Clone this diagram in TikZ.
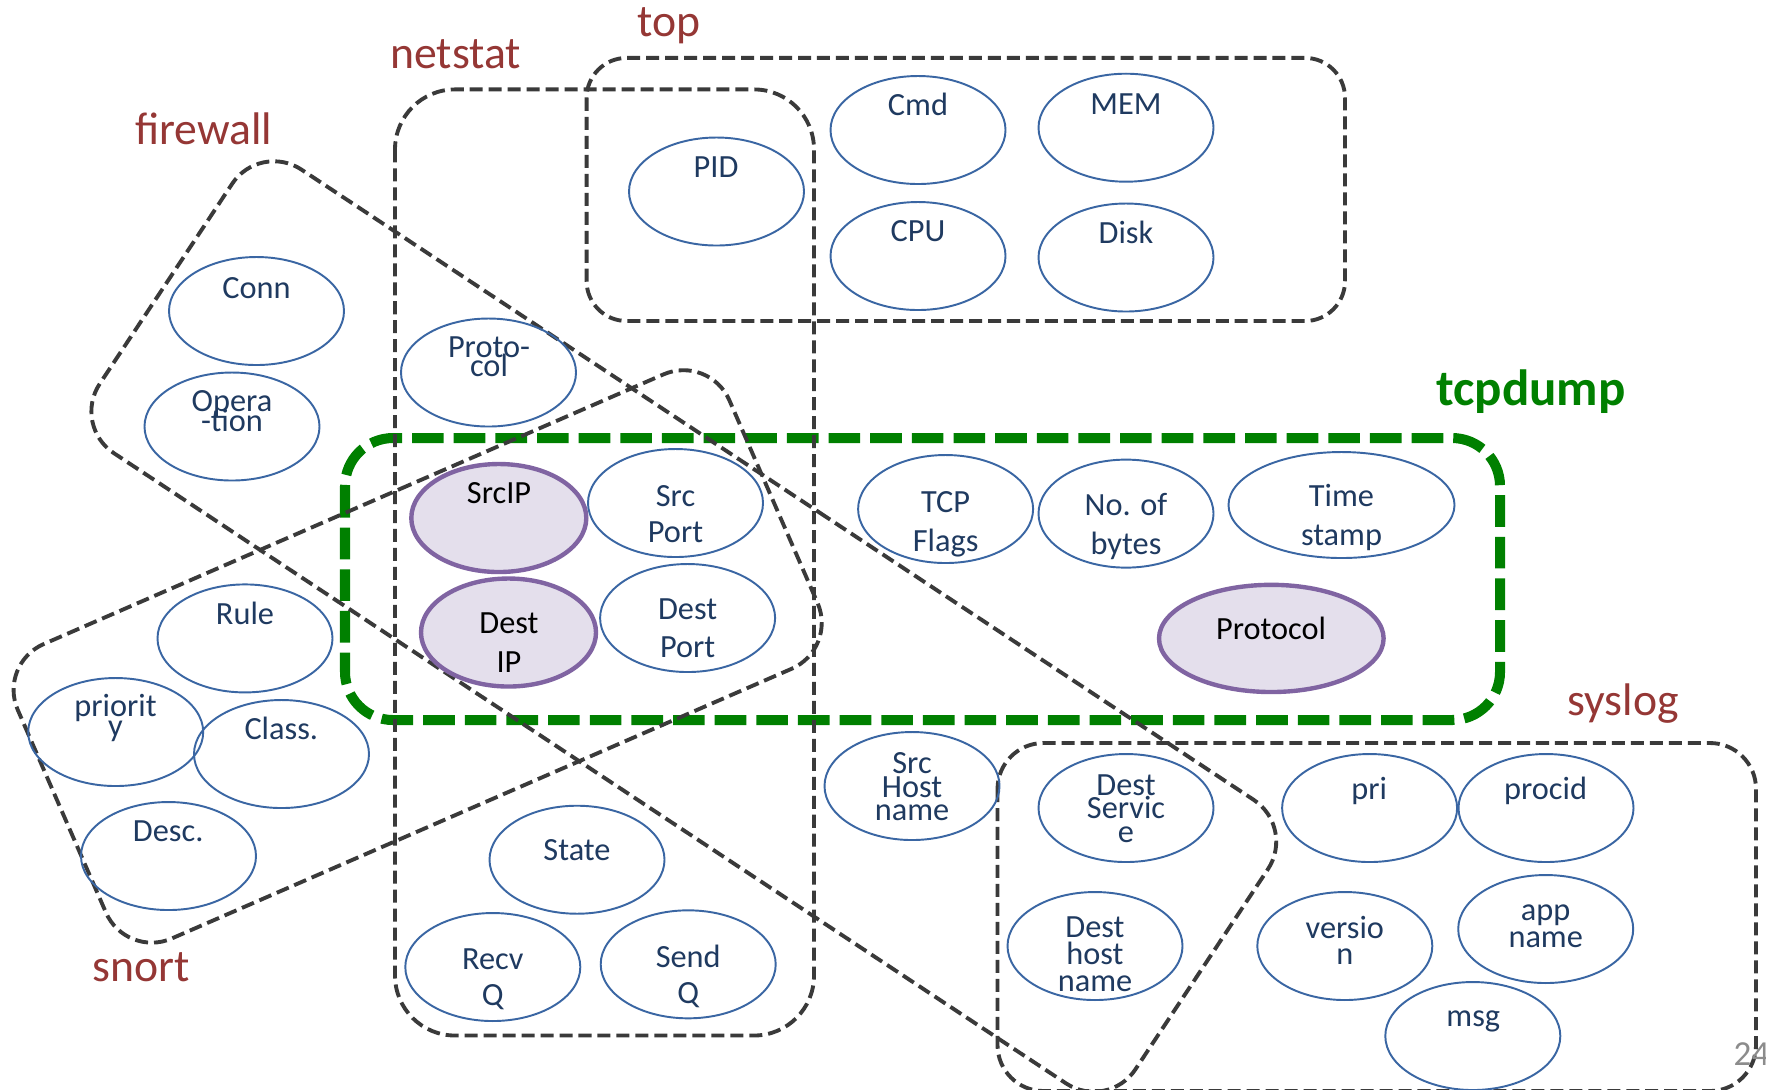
\documentclass[tikz,border=0pt]{standalone}
\usepackage{fontspec}
\setmainfont{Carlito}
\usetikzlibrary{shapes.geometric}

\definecolor{grpgray}{HTML}{3A3A3A}
\definecolor{dumpgreen}{HTML}{008000}
\definecolor{ttlred}{HTML}{953735}
\definecolor{fldblue}{HTML}{3A66A3}
\definecolor{fldtext}{HTML}{1F3A60}
\definecolor{hlpurple}{HTML}{8064A2}
\definecolor{hlfill}{HTML}{E4DFEC}
\definecolor{pagegray}{HTML}{8C8C8C}

% stacked lines with a fixed baseline distance; baseline of the box = first line
\newcommand{\stk}[2]{\vtop{\baselineskip=#1\lineskiplimit=-\maxdimen\lineskip=0pt\halign{\hfil##\hfil\cr#2\crcr}}}

\tikzset{
  grp/.style={draw=grpgray, line width=1.1pt, dash pattern=on 3.7pt off 1.7pt},
  dumpbox/.style={draw=dumpgreen, line width=2.85pt, dash pattern=on 9pt off 2.85pt},
  fld/.style={ellipse, draw=fldblue, line width=0.55pt, inner sep=0pt,
              minimum width=17.5mm, minimum height=10.8mm},
  hl/.style={fld, draw=hlpurple, fill=hlfill, line width=1.25pt},
  ftxt/.style={text=fldtext, font=\fontsize{9.2}{10}\selectfont, inner sep=0pt, anchor=base},
  htxt/.style={ftxt, text=black},
  ttl/.style={text=ttlred, font=\fontsize{13}{15}\selectfont, inner sep=0pt, anchor=base},
}

\begin{document}
\begin{tikzpicture}[x=0.1mm, y=-0.1mm]
\clip (0,0) rectangle (1766,1089);
\fill[white] (0,0) rectangle (1766,1089);

% ---- tool groups ----
\draw[dumpbox, rounded corners=4.8mm] (345,438) rectangle (1500,720);
\draw[grp, rounded corners=4mm] (586.6,57.9) rectangle (1345,321);
\draw[grp, rounded corners=6mm] (395,89.4) rectangle (814,1035.5);
\draw[grp, rounded corners=4.6mm] (997.5,743) rectangle (1756,1091);
% firewall: tilted band
\draw[grp, rounded corners=5mm] (777.6,484.8) -- (1295.5,827.5) -- (1107.8,1111)
      -- (72.1,425.5) -- (259.8,142) -- cycle;
% snort: tilted band
\draw[grp, rounded corners=5mm] (353.6,509.2) -- (709.4,354.4) -- (837.5,648.8)
      -- (125.9,958.4) -- (-2.2,664) -- cycle;

% ---- group titles ----
\node[ttl] (t-top) at (669,36.8) {top};
\node[ttl] (t-netstat) at (455.7,68.4) {netstat};
\node[ttl] (t-firewall) at (203.8,144.9) {firewall};
\node[ttl, text=dumpgreen, font=\fontsize{14.5}{16}\selectfont\bfseries] (t-tcpdump) at (1531,405) {tcpdump};
\node[ttl] (t-syslog) at (1623,715) {syslog};
\node[ttl] (t-snort) at (141,981) {snort};
\node[inner sep=0pt, anchor=base west, text=pagegray, font=\fontsize{10}{12}\selectfont] (pageno) at (1733,1065) {24};

% ---- fields ----
\node[fld] (pid) at (716.5,191.5) {};
\node[fld] (cmd) at (918,130) {};
\node[fld] (mem) at (1126,127.7) {};
\node[fld] (cpu) at (918,256) {};
\node[fld] (disk) at (1126,257.5) {};
\node[fld] (conn) at (256.5,311) {};
\node[fld] (oper) at (232,426.5) {};
\node[fld] (proto) at (488.5,372.5) {};
\node[hl] (srcip) at (498.8,518) {};
\node[fld] (srcport) at (675.5,503) {};
\node[hl] (destip) at (508.5,632.5) {};
\node[fld] (destport) at (687.6,618) {};
\node[fld] (tcpflags) at (945.6,509) {};
\node[fld] (nbytes) at (1126,513.6) {};
\node[fld, minimum width=22.6mm, minimum height=10.6mm] (tstamp) at (1341.5,505) {};
\node[hl, minimum width=22.46mm, minimum height=10.72mm] (protoh) at (1271.3,638.4) {};
\node[fld] (rule) at (245,638.4) {};
\node[fld] (prio) at (115.7,732) {};
\node[fld] (class) at (281.5,754) {};
\node[fld] (desc) at (168.5,856) {};
\node[fld] (state) at (577,859.7) {};
\node[fld] (recvq) at (492.8,967) {};
\node[fld] (sendq) at (688.2,964.3) {};
\node[fld] (srchost) at (912,786) {};
\node[fld] (dserv) at (1126,808) {};
\node[fld] (dhost) at (1095,946) {};
\node[fld] (pri) at (1369.6,808) {};
\node[fld] (procid) at (1546,808) {};
\node[fld] (version) at (1344.8,946) {};
\node[fld] (app) at (1545.7,929) {};
\node[fld] (msg) at (1472.8,1036) {};

% ---- field labels ----
\node[ftxt] (pid-l) at (716,177) {PID};
\node[ftxt] (cmd-l) at (918,115.7) {Cmd};
\node[ftxt] (mem-l) at (1126,114) {MEM};
\node[ftxt] (cpu-l) at (918,241.3) {CPU};
\node[ftxt] (disk-l) at (1126,243.8) {Disk};
\node[ftxt] (conn-l) at (256.5,298.3) {Conn};
\node[ftxt] (oper-l) at (232,411.7) {\stk{5.7pt}{Opera\cr -tion}};
\node[ftxt] (proto-l) at (489,357.8) {\stk{5.45pt}{Proto-\cr col}};
\node[htxt] (srcip-l) at (499,503.3) {SrcIP};
\node[ftxt] (srcport-l) at (675.5,506.7) {\stk{10.3pt}{Src\cr Port}};
\node[htxt] (destip-l) at (509,633.8) {\stk{11.1pt}{Dest\cr IP}};
\node[ftxt] (destport-l) at (687.6,619.8) {\stk{10.65pt}{Dest\cr Port}};
\node[ftxt] (tcpflags-l) at (945.6,512.5) {\stk{11.2pt}{TCP\cr Flags}};
\node[ftxt] (nbytes-l) at (1126,515) {\stk{11.1pt}{No. of\cr bytes}};
\node[ftxt] (tstamp-l) at (1341.5,506.8) {\stk{10.95pt}{Time\cr stamp}};
\node[htxt] (protoh-l) at (1271,639.8) {Protocol};
\node[ftxt] (rule-l) at (245,624) {Rule};
\node[ftxt] (prio-l) at (115.5,716.7) {\stk{5.7pt}{priorit\cr y}};
\node[ftxt] (class-l) at (281.3,739.6) {Class.};
\node[ftxt] (desc-l) at (168.2,841) {Desc.};
\node[ftxt] (state-l) at (577,860.4) {State};
\node[ftxt] (recvq-l) at (492.8,969) {\stk{10.4pt}{Recv\cr Q}};
\node[ftxt] (sendq-l) at (688.2,967) {\stk{10.5pt}{Send\cr Q}};
\node[ftxt] (srchost-l) at (912,773.9) {\stk{6.6pt}{Src\cr Host\cr name}};
\node[ftxt] (dserv-l) at (1126,795.6) {\stk{6.6pt}{Dest\cr Servic\cr e}};
\node[ftxt] (dhost-l) at (1095,937.4) {\stk{7.7pt}{Dest\cr host\cr name}};
\node[ftxt] (pri-l) at (1369.3,799.8) {pri};
\node[ftxt] (procid-l) at (1545.6,799.8) {procid};
\node[ftxt] (version-l) at (1344.8,938.5) {\stk{7.45pt}{versio\cr n}};
\node[ftxt] (app-l) at (1545.7,920) {\stk{7.7pt}{app\cr name}};
\node[ftxt] (msg-l) at (1473.3,1026.7) {msg};
\end{tikzpicture}
\end{document}
